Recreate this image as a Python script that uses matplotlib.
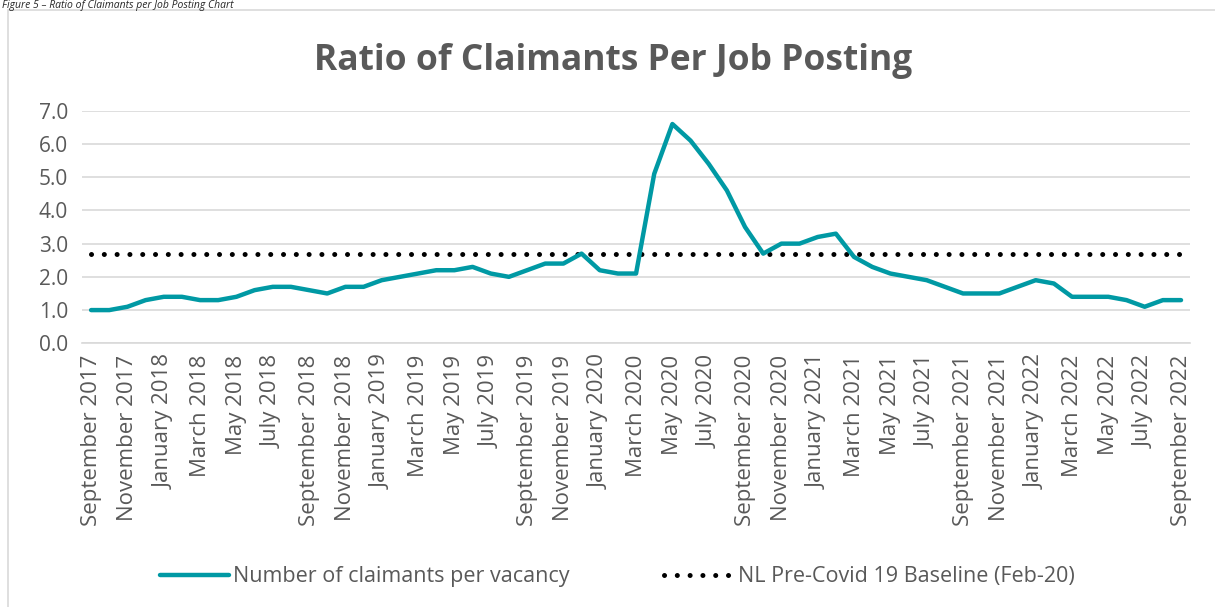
import numpy as np
import matplotlib
matplotlib.use("Agg")
import matplotlib.pyplot as plt
from matplotlib.patches import Rectangle

plt.rcParams.update({
    "font.family": ["Open Sans", "DejaVu Sans"],
    "axes.unicode_minus": False,
})

MONTHS = ["January", "February", "March", "April", "May", "June", "July",
          "August", "September", "October", "November", "December"]

# Sep 2017 .. Sep 2022, monthly
months = [f"{MONTHS[(8 + i) % 12]} {2017 + (8 + i) // 12}" for i in range(61)]

claimants = [1.0, 1.0, 1.1, 1.3, 1.4, 1.4, 1.3, 1.3, 1.4, 1.6,
             1.7, 1.7, 1.6, 1.5, 1.7, 1.7, 1.9, 2.0, 2.1, 2.2,
             2.2, 2.3, 2.1, 2.0, 2.2, 2.4, 2.4, 2.7, 2.2, 2.1,
             2.1, 5.1, 6.6, 6.1, 5.4, 4.6, 3.5, 2.7, 3.0, 3.0,
             3.2, 3.3, 2.6, 2.3, 2.1, 2.0, 1.9, 1.7, 1.5, 1.5,
             1.5, 1.7, 1.9, 1.8, 1.4, 1.4, 1.4, 1.3, 1.1, 1.3,
             1.3]
baseline = [2.7] * len(months)

C_LINE = "#0099A4"
C_TEXT = "#595959"
C_GRID = "#D9D9D9"

fig = plt.figure(figsize=(12.15, 6.07), dpi=100)
ax = fig.add_axes([0.0675, 0.4344, 0.912, 0.3832])

# chart frame (runs off the right/bottom edge like the screenshot)
fig.patches.append(Rectangle((8 / 1215, -0.05), 1.1, 1 - 10 / 607 + 0.05,
                             transform=fig.transFigure, fill=False,
                             edgecolor=C_GRID, lw=1.2, clip_on=False))
fig.text(0.002, 1.0, "Figure 5 – Ratio of Claimants per Job Posting Chart",
         style="italic", fontsize=7.5, color="#262626", va="top", ha="left")

x = np.arange(len(months))
ax.plot(x, claimants, color=C_LINE, lw=3.2, solid_capstyle="round",
        solid_joinstyle="round", label="Number of claimants per vacancy", zorder=3)
ax.plot(x, baseline, color="black", lw=3.6, linestyle=(0, (0.01, 2.55)),
        dash_capstyle="round", label="NL Pre-Covid 19 Baseline (Feb-20)", zorder=2)

ax.set_xlim(-0.5, len(months) - 0.5)
ax.set_ylim(0, 7)
ax.set_yticks(np.arange(0, 7.01, 1.0))
ax.set_yticklabels([f"{v:.1f}" for v in np.arange(0, 7.01, 1.0)])
ax.set_xticks(x[::2])
ax.set_xticklabels(months[::2], rotation=90)
ax.tick_params(axis="both", length=0, colors=C_TEXT)
ax.tick_params(axis="x", pad=8, labelsize=16)
ax.tick_params(axis="y", pad=10, labelsize=15)

ax.grid(axis="y", color=C_GRID, lw=1.2)
ax.set_axisbelow(True)
for s in ["top", "right", "left"]:
    ax.spines[s].set_visible(False)
ax.spines["bottom"].set_color(C_GRID)
ax.spines["bottom"].set_linewidth(1.2)

fig.text(0.5045, 0.9, "Ratio of Claimants Per Job Posting", ha="center",
         va="center", fontsize=25.5, fontweight="bold", color=C_TEXT)

leg = fig.legend(loc="center", bbox_to_anchor=(0.508, 0.05), ncol=2,
                 frameon=False, fontsize=15.5, handlelength=3.2,
                 columnspacing=4.4, handletextpad=0.2)
for t in leg.get_texts():
    t.set_color(C_TEXT)

fig.savefig("out.png", dpi=100, facecolor="white")
